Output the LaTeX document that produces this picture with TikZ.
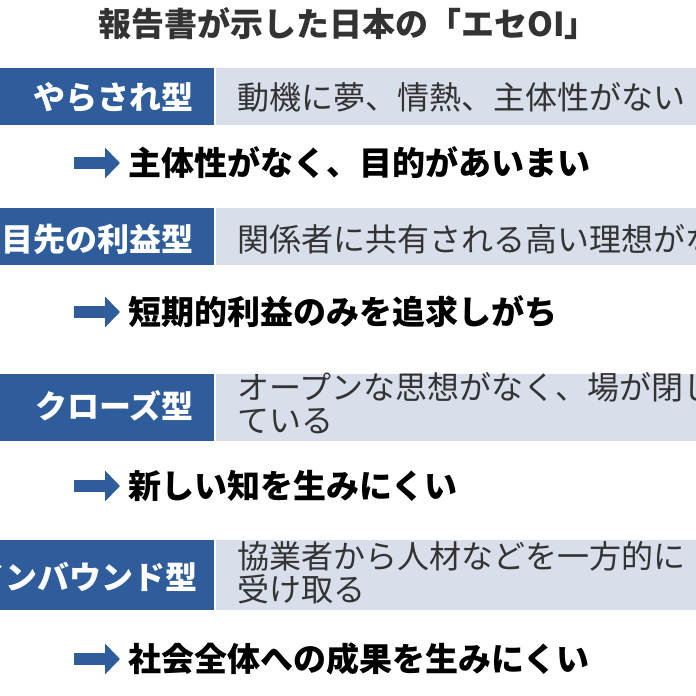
\documentclass[tikz,border=0pt]{standalone}
\usepackage{fontspec}
\setmainfont{Noto Sans CJK JP}
\usetikzlibrary{arrows.meta}
\definecolor{dblue}{HTML}{2F5C9A}
\definecolor{lblue}{HTML}{D8DEEA}
\definecolor{tgray}{HTML}{333333}
\tikzset{
  x=1pt,y=-1pt,
  lbox/.style={fill=dblue,draw=none},
  rbox/.style={fill=lblue,draw=none},
  ltext/.style={anchor=east,text=white,font=\fontsize{32}{34}\selectfont\bfseries,inner sep=0},
  rtext/.style={anchor=west,text=tgray,font=\fontsize{32}{33}\selectfont,align=left,inner sep=0},
  atext/.style={anchor=west,text=black,font=\fontsize{33}{34}\selectfont\bfseries,inner sep=0},
  barrow/.style={-{Triangle[length=15pt,width=30pt]},line width=12pt,dblue}
}
\begin{document}
\begin{tikzpicture}
\useasboundingbox (0,0) rectangle (696,696);
\clip (0,0) rectangle (696,696);
\fill[white] (0,0) rectangle (696,696);
\node[font=\fontsize{33}{34}\selectfont\bfseries,text=tgray] (title) at (348,24) {報告書が示した日本の「エセOI」};
\foreach \yt/\yb/\id in {68/125/a,208/265/b,374/441/c,540/610/d}{
  \fill[lbox] (0,\yt) rectangle (214,\yb);
  \fill[rbox] (216,\yt) rectangle (696,\yb);
}
\node[ltext] (l1) at (194,97) {やらされ型};
\node[ltext] (l2) at (194,239) {目先の利益型};
\node[ltext] (l3) at (194,406) {クローズ型};
\node[ltext] (l4) at (198,577) {インバウンド型};
\node[rtext] (r1) at (237,97) {動機に夢、情熱、主体性がない};
\node[rtext] (r2) at (237,239) {関係者に共有される高い理想がない};
\node[rtext] (r3) at (237,403) {オープンな思想がなく、場が閉じ\\ている};
\node[rtext] (r4) at (237,573) {協業者から人材などを一方的に\\受け取る};
\foreach \y/\t/\n in {163/主体性がなく、目的があいまい/a,312/短期的利益のみを追求しがち/b,486/新しい知を生みにくい/c,659/社会全体への成果を生みにくい/d}{
  \coordinate (s\n) at (74,\y);
  \node[atext] (t\n) at (128,\y) {\t};
  \draw[barrow,shorten >=8pt] (s\n) -- (t\n.west);
}
\end{tikzpicture}
\end{document}
